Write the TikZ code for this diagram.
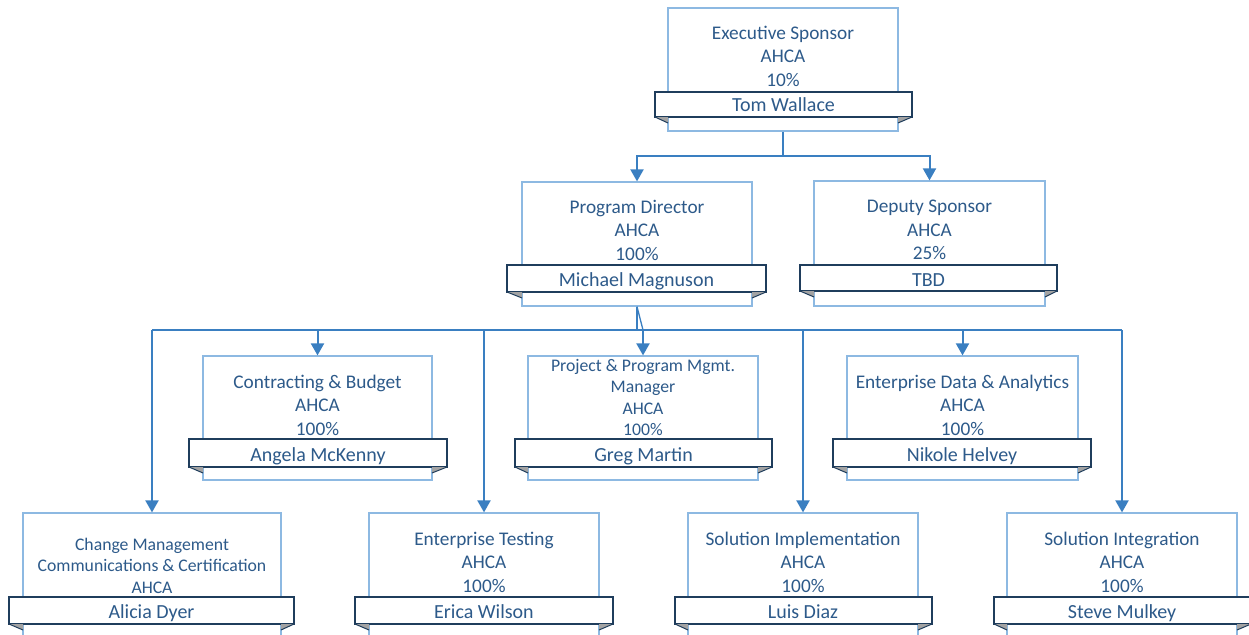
\documentclass[tikz,border=0pt]{standalone}
\usepackage{fontspec}
\setmainfont{Carlito}
\usetikzlibrary{arrows.meta}
\definecolor{boxline}{HTML}{8DB9E2}
\definecolor{txt}{HTML}{2D5A8A}
\definecolor{conn}{HTML}{3A7FC1}
\definecolor{ribline}{HTML}{1F3D5C}
\definecolor{foldgray}{HTML}{A3A3A3}
\tikzset{
  unitbox/.style={draw=boxline, line width=1.2pt, fill=white, inner sep=0pt, rectangle},
  ribbon/.style={draw=ribline, line width=1.2pt, fill=white, inner sep=0pt, rectangle},
  title/.style={text=txt, align=center, inner sep=0pt, font=\fontsize{19.3}{23.5}\selectfont},
  smalltitle/.style={text=txt, align=center, inner sep=0pt, font=\fontsize{17.7}{21.5}\selectfont},
  nametext/.style={text=txt, inner sep=0pt, text height=13pt, text depth=4pt, font=\fontsize{20}{22}\selectfont},
  conline/.style={draw=conn, line width=2pt},
  arr/.style={conline, -{Triangle[width=13pt,length=12pt]}},
}
% id, l, t, r, b, rl, rr, rt, rb
\newcommand\orgunit[9]{%
  \node[unitbox, minimum width={(#4-#2)*1pt}, minimum height={(#5-#3)*1pt}] (#1) at ({(#2+#4)/2},{(#3+#5)/2}) {};
  \node[ribbon, minimum width={(#7-#6)*1pt}, minimum height={(#9-#8)*1pt}] (#1-rib) at ({(#6+#7)/2},{(#8+#9)/2}) {};
  \fill[foldgray] (#6,#9) -- (#2,#9) -- (#2,#9+6) -- cycle;
  \draw[ribline, line width=1pt] (#6,#9) -- (#2,#9+6);
  \fill[foldgray] (#7,#9) -- (#4,#9) -- (#4,#9+6) -- cycle;
  \draw[ribline, line width=1pt] (#7,#9) -- (#4,#9+6);
}
\begin{document}
\begin{tikzpicture}[x=1pt,y=-1pt]
\useasboundingbox (0,0) rectangle (1249,634);
\clip (0,0) rectangle (1249,634);

% units
\orgunit{exec}{668}{8}{898}{131}{655}{912}{92}{117}
\orgunit{pd}{522}{182}{752}{306}{507}{766}{265}{292}
\orgunit{ds}{814}{181}{1045}{306}{800}{1057}{265}{291}
\orgunit{cb}{203}{356}{432}{480}{189}{447}{439}{467}
\orgunit{pp}{528}{356}{758}{480}{515}{772}{439}{467}
\orgunit{ed}{847}{356}{1078}{480}{833}{1091}{439}{467}
\orgunit{cm}{23}{513}{281}{650}{9}{294}{597}{624}
\orgunit{et}{369}{513}{599}{650}{355}{613}{597}{624}
\orgunit{si}{688}{513}{918}{650}{675}{932}{597}{624}
\orgunit{sint}{1007}{513}{1237}{650}{994}{1251}{597}{624}

% titles
\node[title] (exec-t) at (783,56) {Executive Sponsor\\AHCA\\10\%};
\node[title] (pd-t) at (637,230) {Program Director\\AHCA\\100\%};
\node[title] (ds-t) at (929.5,230) {Deputy Sponsor\\AHCA\\25\%};
\node[title] (cb-t) at (317.5,405) {Contracting \& Budget\\AHCA\\100\%};
\node[smalltitle] (pp-t) at (643,397.5) {Project \& Program Mgmt.\\Manager\\AHCA\\100\%};
\node[title] (ed-t) at (962.5,405) {Enterprise Data \& Analytics\\AHCA\\100\%};
\node[smalltitle] (cm-t) at (152,565.5) {Change Management\\Communications \& Certification\\AHCA};
\node[title] (et-t) at (484,562) {Enterprise Testing\\AHCA\\100\%};
\node[title] (si-t) at (803,562) {Solution Implementation\\AHCA\\100\%};
\node[title] (sint-t) at (1122,562) {Solution Integration\\AHCA\\100\%};

% names
\node[nametext] (exec-n) at (783.5,106.5) {Tom Wallace};
\node[nametext] (pd-n) at (636.5,281.5) {Michael Magnuson};
\node[nametext] (ds-n) at (928.5,281.5) {TBD};
\node[nametext] (cb-n) at (318,456.5) {Angela McKenny};
\node[nametext] (pp-n) at (643.5,456.5) {Greg Martin};
\node[nametext] (ed-n) at (962,456.5) {Nikole Helvey};
\node[nametext] (cm-n) at (151.5,613.5) {Alicia Dyer};
\node[nametext] (et-n) at (484,613.5) {Erica Wilson};
\node[nametext] (si-n) at (803,613.5) {Luis Diaz};
\node[nametext] (sint-n) at (1122,613.5) {Steve Mulkey};

% connectors: top level
\coordinate (top) at (783,155.5);
\draw[conline] (exec.south) -- (top);
\draw[arr] (top) -| (pd.north);
\draw[arr] (top) -| (ds.north);

% connectors: bus under Program Director
\coordinate (bus) at (637,330);
\draw[conline] (pd.south) -- (bus);
\draw[conn, line width=1.3pt] (pd.south) -- (pp.north |- bus);
\draw[conline] (cm.north |- bus) -- (sint.north |- bus);
\draw[arr] (cb.north |- bus) -- (cb.north);
\draw[arr] (pp.north |- bus) -- (pp.north);
\draw[arr] (ed.north |- bus) -- (ed.north);
\draw[arr] (cm.north |- bus) -- (cm.north);
\draw[arr] (et.north |- bus) -- (et.north);
\draw[arr] (si.north |- bus) -- (si.north);
\draw[arr] (sint.north |- bus) -- (sint.north);
\end{tikzpicture}
\end{document}
